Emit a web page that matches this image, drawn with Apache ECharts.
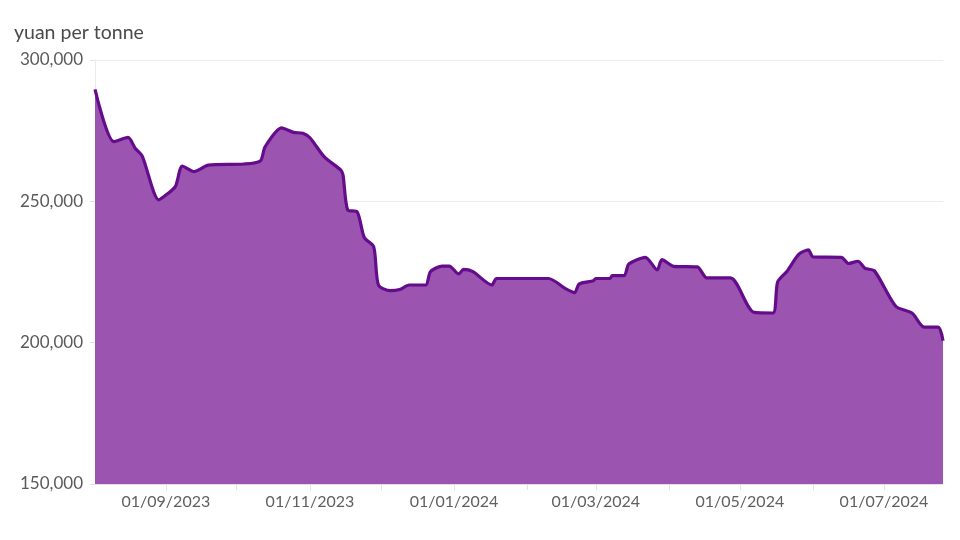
<!DOCTYPE html>
<html>
<head>
<meta charset="utf-8">
<script src="https://cdn.jsdelivr.net/npm/echarts@6/dist/echarts.min.js"></script>
<style>
  html, body { margin: 0; padding: 0; background: #ffffff; }
  #chart { width: 960px; height: 540px; }
</style>
</head>
<body>
<div id="chart"></div>
<script>
// Dates and prices (yuan per tonne)
const dates = [
  '2023-08-02','2023-08-10','2023-08-16','2023-08-19','2023-08-22','2023-08-29',
  '2023-09-01','2023-09-05','2023-09-08','2023-09-13','2023-09-19','2023-10-04',
  '2023-10-11','2023-10-13','2023-10-20','2023-10-25','2023-10-29','2023-11-01',
  '2023-11-07','2023-11-14','2023-11-15','2023-11-17','2023-11-21','2023-11-24',
  '2023-11-28','2023-11-30','2023-12-05','2023-12-09','2023-12-13','2023-12-20',
  '2023-12-22','2023-12-27','2023-12-30','2024-01-03','2024-01-05','2024-01-09',
  '2024-01-17','2024-01-19','2024-02-10','2024-02-17','2024-02-21','2024-02-23',
  '2024-02-29','2024-03-01','2024-03-07','2024-03-08','2024-03-13','2024-03-15',
  '2024-03-22','2024-03-27','2024-03-29','2024-04-03','2024-04-13','2024-04-17',
  '2024-04-27','2024-05-07','2024-05-15','2024-05-17','2024-05-21','2024-05-26',
  '2024-05-30','2024-06-01','2024-06-13','2024-06-16','2024-06-20','2024-06-23',
  '2024-06-27','2024-07-06','2024-07-13','2024-07-18','2024-07-24','2024-07-26'
];
const prices = [
  289600, 271100, 272600, 268800, 266000, 250500,
  252200, 255200, 262500, 260500, 262800, 263200,
  264300, 269300, 276000, 274400, 274100, 272500,
  265800, 261100, 259300, 246900, 246300, 237200,
  233900, 220400, 218400, 218800, 220400, 220400,
  225100, 227100, 227100, 224300, 225900, 225100,
  220400, 222700, 222700, 219200, 217700, 220800,
  221900, 222700, 222700, 223700, 223700, 227800,
  230200, 225700, 229400, 227000, 226800, 222900,
  222900, 210700, 210500, 221500, 225300, 231300,
  232800, 230300, 230200, 228000, 228800, 226300,
  225400, 212900, 210400, 205500, 205500, 200700
];
const yTicks = [150000, 200000, 250000, 300000];
const unitLabel = 'yuan per tonne';

const chart = echarts.init(document.getElementById('chart'), null, { renderer: 'canvas' });
const font = 'Lato, "Open Sans", sans-serif';
const pad = n => (n < 10 ? '0' : '') + n;

chart.setOption({
  animation: false,
  backgroundColor: '#ffffff',
  title: {
    text: unitLabel,
    left: 9, top: 18,
    textStyle: { fontFamily: font, fontSize: 19.5, fontWeight: 'normal', color: '#4a4a4a' }
  },
  grid: { left: 95, right: 17, top: 60, bottom: 56, containLabel: false },
  xAxis: {
    type: 'time',
    min: dates[0],
    max: dates[dates.length - 1],
    splitNumber: 12,
    maxInterval: 31 * 86400000,
    axisLine: { show: true, lineStyle: { color: '#e2e2e2' } },
    axisTick: { show: true, length: 6, lineStyle: { color: '#e2e2e2' } },
    splitLine: { show: false },
    axisLabel: {
      fontFamily: font, fontSize: 16, color: '#606060', margin: 10,
      hideOverlap: false,
      formatter: function (val) {
        const d = new Date(val);
        if (d.getDate() === 1 && d.getMonth() % 2 === 0) {
          return pad(d.getDate()) + '/' + pad(d.getMonth() + 1) + '/' + d.getFullYear();
        }
        return '';
      }
    }
  },
  yAxis: {
    type: 'value',
    min: yTicks[0],
    max: yTicks[yTicks.length - 1],
    interval: 50000,
    axisLine: { show: true, lineStyle: { color: '#ececec' } },
    axisTick: { show: true, length: 5, lineStyle: { color: '#e2e2e2' } },
    splitLine: { show: true, lineStyle: { color: '#ececec', width: 1 } },
    axisLabel: {
      fontFamily: font, fontSize: 17, color: '#5a5a5a', margin: 12,
      formatter: v => v.toLocaleString('en-US')
    }
  },
  series: [{
    type: 'line',
    data: dates.map((d, i) => [d, prices[i]]),
    showSymbol: false,
    smooth: 0.25,
    lineStyle: { color: '#650c8c', width: 3.2, join: 'round' },
    itemStyle: { color: '#650c8c' },
    areaStyle: { color: 'rgb(147,71,170)', opacity: 0.93, origin: 'start' }
  }]
});
</script>
</body>
</html>
